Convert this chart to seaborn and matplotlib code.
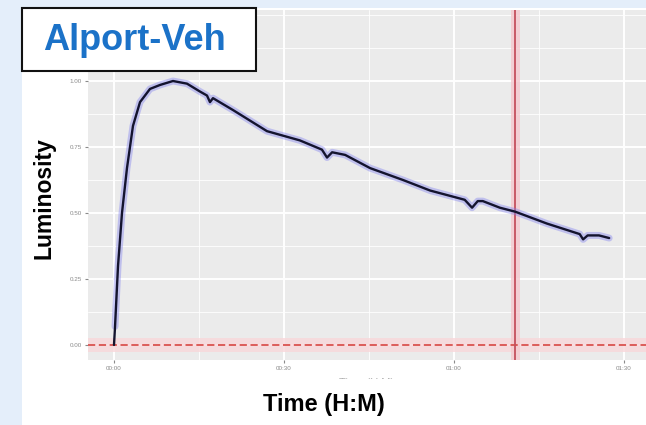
import matplotlib
matplotlib.use("Agg")
import matplotlib.pyplot as plt
from matplotlib.patches import Rectangle
from matplotlib.ticker import FixedLocator, MultipleLocator
import numpy as np
import pandas as pd
import seaborn as sns

# Luminosity trace over time (minutes since start)
minutes = [0.0, 0.18, 0.71, 1.41, 2.29, 3.35, 4.59, 6.35, 8.12, 10.41, 12.88,
           15.18, 16.41, 16.94, 17.47, 21.0, 27.0, 32.8, 36.7, 37.6, 38.5,
           40.8, 45.2, 51.0, 55.8, 61.9, 63.2, 64.2, 65.1, 68.1, 70.8, 76.4,
           82.2, 82.8, 83.6, 85.6, 87.4]
luminosity = [0.0, 0.07, 0.30, 0.50, 0.67, 0.83, 0.92, 0.97, 0.985, 1.00, 0.99,
              0.96, 0.945, 0.92, 0.935, 0.89, 0.81, 0.775, 0.74, 0.71, 0.73,
              0.72, 0.67, 0.625, 0.585, 0.55, 0.52, 0.545, 0.545, 0.52, 0.505,
              0.46, 0.42, 0.40, 0.415, 0.415, 0.405]

y_ticks = [0.0, 0.25, 0.50, 0.75, 1.00]
y_tick_labels = ["0.00", "0.25", "0.50", "0.75", "1.00"]
x_ticks = [0, 30, 60, 90]
x_tick_labels = ["00:00", "00:30", "01:00", "01:30"]
marker_time = 70.8
baseline = 0.0

df = pd.DataFrame({"minutes": minutes, "luminosity": luminosity})

sns.set_theme(style="darkgrid")
plt.rcParams["font.family"] = ["Liberation Sans", "DejaVu Sans"]

W, H = 646, 425
fig = plt.figure(figsize=(W / 100, H / 100), dpi=100, facecolor="#e4eefa")

# white card behind the plot
fig.patches.append(Rectangle((22 / W, 0), 1 - 22 / W, 1 - 8 / H,
                             transform=fig.transFigure, facecolor="white",
                             edgecolor="none", zorder=-1))

ax = fig.add_axes([88 / W, (H - 360) / H, (W - 88) / W, 350 / H])
ax.set_facecolor("#ebebeb")
for s in ax.spines.values():
    s.set_visible(False)

# reference bands and lines
ax.axhspan(baseline - 0.025, baseline + 0.025, color="#f8d7da", alpha=0.8, lw=0, zorder=1)
ax.axhline(baseline, color="#d9534f", lw=1.3, ls=(0, (4, 2)), zorder=2)
ax.axvspan(marker_time - 0.8, marker_time + 0.8, color="#f4c9cf", alpha=0.8, lw=0, zorder=1)
ax.axvline(marker_time, color="#c4505e", lw=1.3, zorder=2)

# smoothed halo and measured trace
sns.lineplot(data=df.iloc[1:], x="minutes", y="luminosity", ax=ax,
             color="#7d7df0", alpha=0.4, lw=5, zorder=3)
sns.lineplot(data=df, x="minutes", y="luminosity", ax=ax,
             color="#14142e", lw=1.7, zorder=4)

ax.set_xlim(-4.59, 93.9)
ax.set_ylim(-0.057, 1.269)
ax.xaxis.set_major_locator(FixedLocator(x_ticks))
ax.xaxis.set_minor_locator(MultipleLocator(15))
ax.yaxis.set_major_locator(FixedLocator(y_ticks))
ax.yaxis.set_minor_locator(MultipleLocator(0.125))
ax.set_xticklabels(x_tick_labels)
ax.set_yticklabels(y_tick_labels)
ax.grid(which="major", color="white", lw=1.4)
ax.grid(which="minor", color="white", lw=0.6)
ax.tick_params(axis="both", which="major", labelsize=4.5, labelcolor="#8a8a8a",
               color="#8a8a8a", length=2.5, width=0.8, pad=2, bottom=True, left=True)
ax.tick_params(which="minor", length=0)
ax.set_xlabel("Time (H:M)", fontsize=8, color="#b0b0b0", labelpad=5)
ax.set_ylabel("")

# cover strip under the panel
fig.patches.append(Rectangle((22 / W, 0), 1 - 22 / W, 46 / H,
                             transform=fig.transFigure, facecolor="white",
                             edgecolor="none", zorder=1))

# header box
fig.patches.append(Rectangle((22 / W, 1 - 71 / H), (256 - 22) / W, 63 / H,
                             transform=fig.transFigure, facecolor="white",
                             edgecolor="#111111", lw=1.5, zorder=5))
fig.text(43 / W, 1 - 40 / H, "Alport-Veh", fontsize=26, fontweight="bold",
         color="#1b72c8", ha="left", va="center", zorder=6)

fig.text(44 / W, 1 - 198 / H, "Luminosity", fontsize=16.5, fontweight="bold",
         rotation=90, ha="center", va="center", color="black", zorder=6)
fig.text(324 / W, 1 - 405 / H, "Time (H:M)", fontsize=17, fontweight="bold",
         ha="center", va="center", color="black", zorder=6)

fig.savefig("out.png", dpi=100, facecolor=fig.get_facecolor())
